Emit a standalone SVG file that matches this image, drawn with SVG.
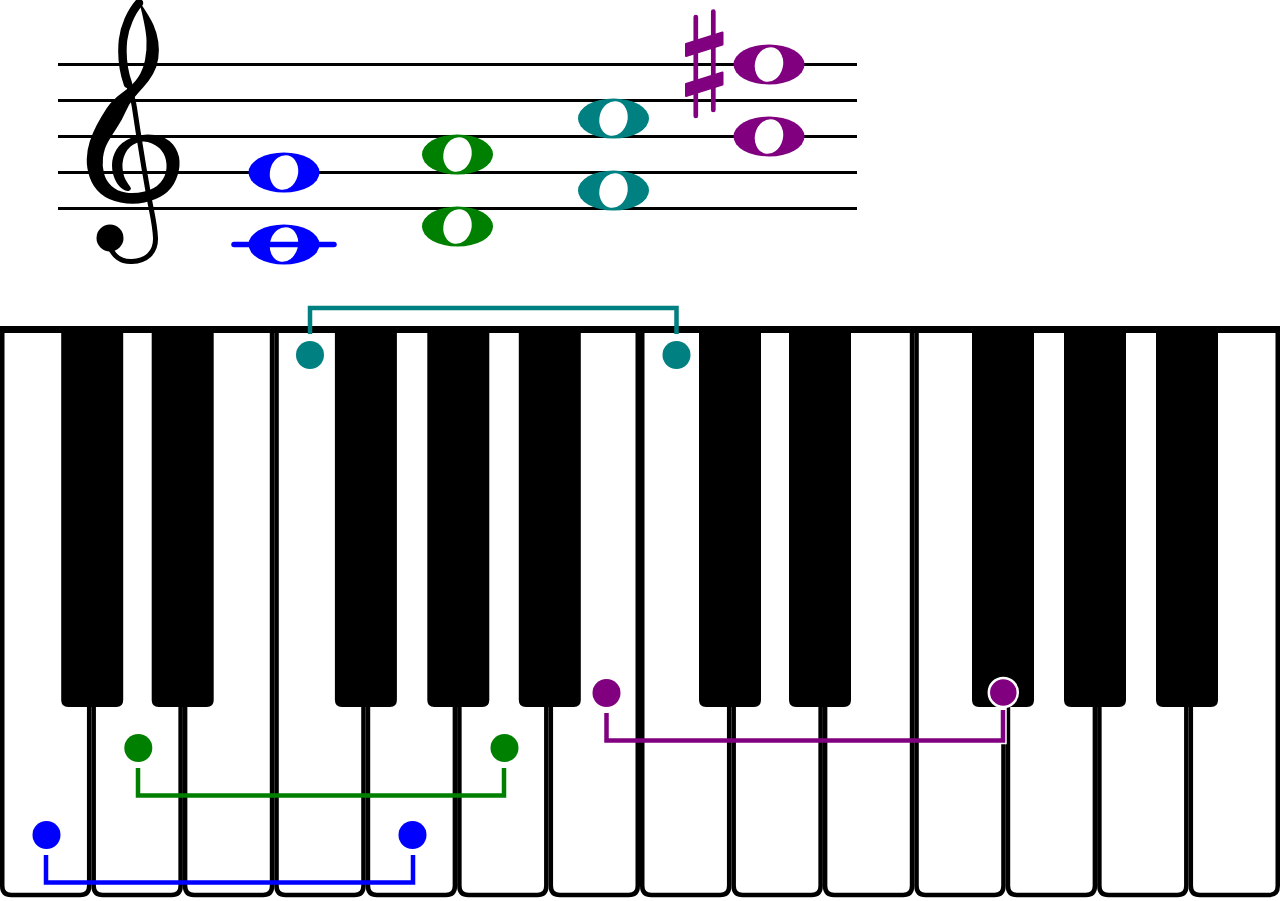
<svg xmlns="http://www.w3.org/2000/svg" xmlns:xlink="http://www.w3.org/1999/xlink" width="1280" height="901" viewBox="0 0 1280 901">
<style>
.staff{stroke:#000;stroke-width:3;fill:none}
.wkey{fill:#fff;stroke:#000;stroke-width:4.5}
.bkey{fill:#000}
.br{fill:none;stroke-width:4.5}
.blue{color:#0000ff}
.green{color:#008000}
.teal{color:#008080}
.purple{color:#800080}
</style>
<defs>
<g id="wn"><ellipse rx="35.5" ry="20" fill="currentColor"/><ellipse rx="14" ry="17.5" fill="#fff" transform="rotate(14)"/></g>
<path id="wk" class="wkey" d="M2.25,329 V886 Q2.25,895 11.25,895 H80.18 Q89.18,895 89.18,886 V329"/>
<path id="bk" class="bkey" d="M-31,326 V700 Q-31,707 -24,707 H24 Q31,707 31,700 V326 Z"/>
</defs>
<rect width="1280" height="901" fill="#fff"/>

<g id="staff">
<path class="staff" d="M58,64.5 H857 M58,100.5 H857 M58,136.5 H857 M58,172.5 H857 M58,208.5 H857"/>
</g>

<g id="clef">
<path fill="#000" d="M139,1 Q150,17 153.5,25 Q157,33 158.25,41.5 Q159.5,50 158.25,58.5 Q157,67 153,74 Q149,81 143.5,87 Q138,93 133.5,98.5 Q129,104 125.5,112 Q122,120 117,127.5 Q112,135 108,142 Q104,149 103,157.5 Q102,166 104,173.5 Q106,181 111.5,186 Q117,191 125.5,192.5 Q134,194 144.5,191.5 Q155,189 160.5,182.5 Q166,176 166.5,168 Q167,160 163.5,153.5 Q160,147 152,143.5 Q144,140 136.5,143 Q129,146 125.5,153 Q122,160 122.5,167.5 Q123,175 125.5,179.5 Q128,184 130,186.5 Q132,189 129.5,190.5 Q127,192 122.5,189 Q118,186 115,179.5 Q112,173 112,165 Q112,157 116.5,149.5 Q121,142 132,137.5 Q143,133 155,135 Q167,137 173,144.5 Q179,152 179.5,161 Q180,170 176,179.5 Q172,189 164,194.5 Q156,200 144.5,202.5 Q133,205 120.5,202.5 Q108,200 100.5,193.5 Q93,187 89.75,177.5 Q86.5,168 86.75,159 Q87,150 89.75,141.5 Q92.5,133 96.75,125 Q101,117 106.5,108.5 Q112,100 122.5,92.5 Q133,85 138,77.5 Q143,70 145,60 Q147,50 146.5,40 Q146,28 139,1 Z"/>
<path fill="none" stroke="#000" stroke-width="8.5" stroke-linecap="round" d="M139,3 C131,12 124.5,27 123,40 C121.5,55 123,70 128,84"/>
<path fill="none" stroke="#000" stroke-width="5" stroke-linecap="round" stroke-linejoin="round" d="M127,80 C131,92 133.5,100 134.5,108 L138.3,133 L143.8,167 L149.5,200 C152,213 155,225 155.5,238 C156,253 146,261 132,261.5 C120,262 113,255 110,247"/>
<circle cx="110" cy="238" r="13.5" fill="#000"/>
</g>

<g id="chord-blue" class="blue">
<use xlink:href="#wn" href="#wn" x="284" y="172.5"/>
<use xlink:href="#wn" href="#wn" x="284" y="244.5"/>
<path d="M234,244.5 H334" stroke="currentColor" stroke-width="5.5" stroke-linecap="round"/>
</g>
<g id="chord-green" class="green">
<use xlink:href="#wn" href="#wn" x="457.5" y="154.5"/>
<use xlink:href="#wn" href="#wn" x="457.5" y="226.5"/>
</g>
<g id="chord-teal" class="teal">
<use xlink:href="#wn" href="#wn" x="613.5" y="118.5"/>
<use xlink:href="#wn" href="#wn" x="613.5" y="190.5"/>
</g>
<g id="chord-purple" class="purple">
<use xlink:href="#wn" href="#wn" x="769" y="64.5"/>
<use xlink:href="#wn" href="#wn" x="769" y="136.5"/>
<g id="sharp" fill="currentColor" stroke="currentColor">
<path d="M695.8,17 V116 M713.3,11.5 V110" stroke-width="4.7" stroke-linecap="round"/>
<path d="M686,44 L722.5,32.5 L722.5,44.5 L686,56 Z M686,84 L722.5,72.5 L722.5,84.5 L686,96 Z" stroke-width="2" stroke-linejoin="round"/>
</g>
</g>

<g id="keyboard">
<g id="white-keys">
<use xlink:href="#wk" href="#wk" x="0"/>
<use xlink:href="#wk" href="#wk" x="91.43"/>
<use xlink:href="#wk" href="#wk" x="182.86"/>
<use xlink:href="#wk" href="#wk" x="274.29"/>
<use xlink:href="#wk" href="#wk" x="365.71"/>
<use xlink:href="#wk" href="#wk" x="457.14"/>
<use xlink:href="#wk" href="#wk" x="548.57"/>
<use xlink:href="#wk" href="#wk" x="640"/>
<use xlink:href="#wk" href="#wk" x="731.43"/>
<use xlink:href="#wk" href="#wk" x="822.86"/>
<use xlink:href="#wk" href="#wk" x="914.29"/>
<use xlink:href="#wk" href="#wk" x="1005.71"/>
<use xlink:href="#wk" href="#wk" x="1097.14"/>
<use xlink:href="#wk" href="#wk" x="1188.57"/>
</g>
<g id="black-keys">
<use xlink:href="#bk" href="#bk" x="92.2"/>
<use xlink:href="#bk" href="#bk" x="182.7"/>
<use xlink:href="#bk" href="#bk" x="365.9"/>
<use xlink:href="#bk" href="#bk" x="458.3"/>
<use xlink:href="#bk" href="#bk" x="549.8"/>
<use xlink:href="#bk" href="#bk" x="730"/>
<use xlink:href="#bk" href="#bk" x="820"/>
<use xlink:href="#bk" href="#bk" x="1003"/>
<use xlink:href="#bk" href="#bk" x="1095"/>
<use xlink:href="#bk" href="#bk" x="1187"/>
</g>
<rect id="top-rail" x="0" y="326" width="1280" height="7" fill="#000"/>
</g>

<g id="connectors">
<path class="br" stroke="#008080" d="M310,334 V308 H676.5 V334"/>
<path class="br" stroke="#008000" d="M138,768 V795.5 H504 V768"/>
<path class="br" stroke="#0000ff" d="M46,855 V882.5 H413 V855"/>
<path fill="none" stroke="#fff" stroke-width="7.5" d="M1003,706 V740.5 H994"/>
<path class="br" stroke="#800080" d="M606.5,713 V740.5 H1003 V710"/>
</g>

<g id="dots">
<circle id="dot-c" cx="46.5" cy="835" r="14" fill="#0000ff"/>
<circle id="dot-g" cx="412.5" cy="835" r="14" fill="#0000ff"/>
<circle id="dot-d" cx="138.3" cy="748" r="14" fill="#008000"/>
<circle id="dot-a" cx="504.5" cy="748" r="14" fill="#008000"/>
<circle id="dot-f" cx="310" cy="355" r="14" fill="#008080"/>
<circle id="dot-c2" cx="676.5" cy="355" r="14" fill="#008080"/>
<circle id="dot-b" cx="606.5" cy="693" r="14" fill="#800080"/>
<circle id="dot-fs" cx="1003.3" cy="692.5" r="14.5" fill="#800080" stroke="#fff" stroke-width="2.5"/>
</g>
</svg>
